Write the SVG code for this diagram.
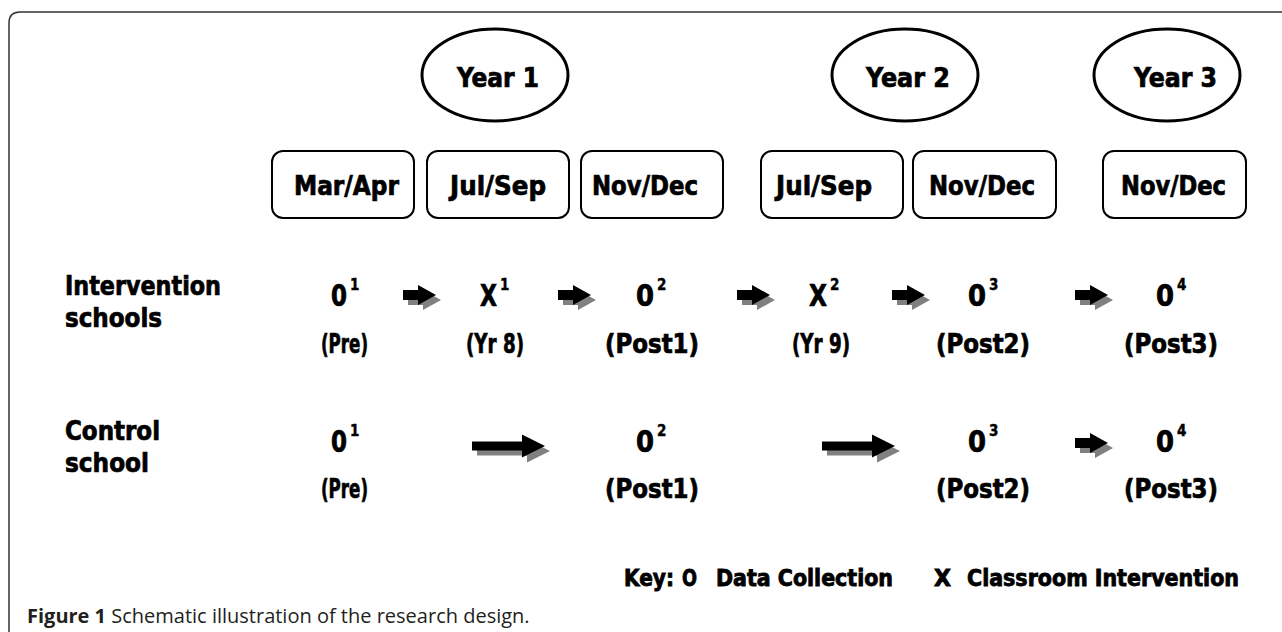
<svg xmlns="http://www.w3.org/2000/svg" width="1282" height="632" viewBox="0 0 1282 632">
<defs>
<style>
.t{font-family:"DejaVu Sans Condensed","Liberation Sans Narrow","Liberation Sans",sans-serif;font-weight:bold;font-size:27px;fill:#000;stroke:#000;stroke-width:0.7px}
.k{font-family:"DejaVu Sans Condensed","Liberation Sans Narrow","Liberation Sans",sans-serif;font-weight:bold;font-size:23px;fill:#000;stroke:#000;stroke-width:0.8px}
.o{font-family:"DejaVu Sans Condensed","Liberation Sans Narrow","Liberation Sans",sans-serif;font-weight:bold;font-size:31px;fill:#000;stroke:#000;stroke-width:0.7px}
.s{font-family:"DejaVu Sans Condensed","Liberation Sans Narrow","Liberation Sans",sans-serif;font-weight:bold;font-size:15px;fill:#000;stroke:#000;stroke-width:0.4px}
.yr{fill:none;stroke:#000;stroke-width:3}
.bx{fill:#fff;stroke:#000;stroke-width:2}
.cap{font-family:"Open Sans","Noto Sans",sans-serif;font-size:20px;fill:#231f20}
.blk{fill:#000}
.shd{fill:#808080}
</style>
<g id="arS">
<path class="shd" d="M5,-5 h15 v-5 l18,10 l-18,10 v-5 h-15 z" transform="translate(0,5)"/>
<path class="blk" d="M0,-5 h15 v-5 l18,10 l-18,10 v-5 h-15 z"/>
</g>
<g id="arL">
<path class="shd" d="M5,-4.5 h50 v-7 l23,11.5 l-23,11.5 v-7 h-50 z" transform="translate(0,5)"/>
<path class="blk" d="M0,-4.5 h50 v-7 l23,11.5 l-23,11.5 v-7 h-50 z"/>
</g>
</defs>
<rect width="1282" height="632" fill="#fff"/>
<path d="M9,632 V23 Q9,12 20,12 H1282" fill="none" stroke="#333" stroke-width="1.5"/>

<g id="year1"><ellipse class="yr" cx="495" cy="75" rx="73" ry="46"/><text class="t" x="457" y="87" textLength="82" lengthAdjust="spacingAndGlyphs">Year 1</text></g>
<g id="year2"><ellipse class="yr" cx="905" cy="75" rx="73" ry="46"/><text class="t" x="866" y="87" textLength="84" lengthAdjust="spacingAndGlyphs">Year 2</text></g>
<g id="year3"><ellipse class="yr" cx="1167" cy="75" rx="73" ry="46"/><text class="t" x="1134" y="87" textLength="83" lengthAdjust="spacingAndGlyphs">Year 3</text></g>

<g id="box1"><rect class="bx" x="272" y="151" width="142" height="67" rx="11"/><text class="t" x="294" y="195" textLength="105" lengthAdjust="spacingAndGlyphs">Mar/Apr</text></g>
<g id="box2"><rect class="bx" x="427" y="151" width="142" height="67" rx="11"/><text class="t" x="450" y="195" textLength="96" lengthAdjust="spacingAndGlyphs">Jul/Sep</text></g>
<g id="box3"><rect class="bx" x="581" y="151" width="142" height="67" rx="11"/><text class="t" x="592" y="195" textLength="106" lengthAdjust="spacingAndGlyphs">Nov/Dec</text></g>
<g id="box4"><rect class="bx" x="761" y="151" width="142" height="67" rx="11"/><text class="t" x="776" y="195" textLength="96" lengthAdjust="spacingAndGlyphs">Jul/Sep</text></g>
<g id="box5"><rect class="bx" x="913" y="151" width="143" height="67" rx="11"/><text class="t" x="929" y="195" textLength="106" lengthAdjust="spacingAndGlyphs">Nov/Dec</text></g>
<g id="box6"><rect class="bx" x="1103" y="151" width="143" height="67" rx="11"/><text class="t" x="1121" y="195" textLength="105" lengthAdjust="spacingAndGlyphs">Nov/Dec</text></g>

<g id="label-intervention"><text class="t" x="65" y="295" textLength="156" lengthAdjust="spacingAndGlyphs">Intervention</text><text class="t" x="65" y="327" textLength="97" lengthAdjust="spacingAndGlyphs">schools</text></g>
<g id="label-control"><text class="t" x="65" y="440" textLength="95" lengthAdjust="spacingAndGlyphs">Control</text><text class="t" x="65" y="472" textLength="84" lengthAdjust="spacingAndGlyphs">school</text></g>

<g id="i-o1"><text class="o" x="331" y="306" textLength="16" lengthAdjust="spacingAndGlyphs">0</text><text class="s" x="350" y="290">1</text><text class="t" x="321" y="353" textLength="47" lengthAdjust="spacingAndGlyphs">(Pre)</text></g>
<g id="i-x1"><text class="o" x="480" y="306" textLength="17" lengthAdjust="spacingAndGlyphs">X</text><text class="s" x="500" y="290">1</text><text class="t" x="466" y="353" textLength="58" lengthAdjust="spacingAndGlyphs">(Yr 8)</text></g>
<g id="i-o2"><text class="o" x="636" y="306" textLength="18" lengthAdjust="spacingAndGlyphs">0</text><text class="s" x="657" y="290">2</text><text class="t" x="605" y="353" textLength="94" lengthAdjust="spacingAndGlyphs">(Post1)</text></g>
<g id="i-x2"><text class="o" x="809" y="306" textLength="18" lengthAdjust="spacingAndGlyphs">X</text><text class="s" x="830" y="290">2</text><text class="t" x="792" y="353" textLength="58" lengthAdjust="spacingAndGlyphs">(Yr 9)</text></g>
<g id="i-o3"><text class="o" x="968" y="306" textLength="18" lengthAdjust="spacingAndGlyphs">0</text><text class="s" x="989" y="290">3</text><text class="t" x="936" y="353" textLength="94" lengthAdjust="spacingAndGlyphs">(Post2)</text></g>
<g id="i-o4"><text class="o" x="1156" y="306" textLength="18" lengthAdjust="spacingAndGlyphs">0</text><text class="s" x="1177" y="290">4</text><text class="t" x="1124" y="353" textLength="94" lengthAdjust="spacingAndGlyphs">(Post3)</text></g>

<g id="c-o1"><text class="o" x="331" y="452" textLength="16" lengthAdjust="spacingAndGlyphs">0</text><text class="s" x="350" y="436">1</text><text class="t" x="321" y="498" textLength="47" lengthAdjust="spacingAndGlyphs">(Pre)</text></g>
<g id="c-o2"><text class="o" x="636" y="452" textLength="18" lengthAdjust="spacingAndGlyphs">0</text><text class="s" x="657" y="436">2</text><text class="t" x="605" y="498" textLength="94" lengthAdjust="spacingAndGlyphs">(Post1)</text></g>
<g id="c-o3"><text class="o" x="968" y="452" textLength="18" lengthAdjust="spacingAndGlyphs">0</text><text class="s" x="989" y="436">3</text><text class="t" x="936" y="498" textLength="94" lengthAdjust="spacingAndGlyphs">(Post2)</text></g>
<g id="c-o4"><text class="o" x="1156" y="452" textLength="18" lengthAdjust="spacingAndGlyphs">0</text><text class="s" x="1177" y="436">4</text><text class="t" x="1124" y="498" textLength="94" lengthAdjust="spacingAndGlyphs">(Post3)</text></g>

<g id="connectors">
<use href="#arS" x="403" y="295"/>
<use href="#arS" x="558" y="295"/>
<use href="#arS" x="737" y="295"/>
<use href="#arS" x="892" y="295"/>
<use href="#arS" x="1075" y="295"/>
<use href="#arL" x="472" y="446"/>
<use href="#arL" x="822" y="446"/>
<use href="#arS" x="1075" y="443"/>
</g>

<g id="key"><text class="k" x="624" y="586" textLength="50" lengthAdjust="spacingAndGlyphs">Key:</text><text class="k" x="682" y="586" textLength="15" lengthAdjust="spacingAndGlyphs">O</text><text class="k" x="716" y="586" textLength="177" lengthAdjust="spacingAndGlyphs">Data Collection</text><text class="k" x="934" y="586" textLength="17" lengthAdjust="spacingAndGlyphs">X</text><text class="k" x="967" y="586" textLength="272" lengthAdjust="spacingAndGlyphs">Classroom Intervention</text></g>

<text class="cap" x="27" y="623"><tspan font-weight="bold">Figure 1</tspan> Schematic illustration of the research design.</text>
</svg>
